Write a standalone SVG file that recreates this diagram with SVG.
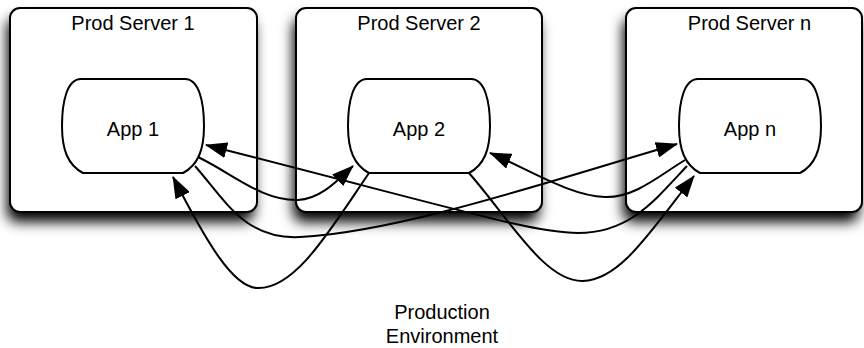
<svg xmlns="http://www.w3.org/2000/svg" xmlns:xlink="http://www.w3.org/1999/xlink" width="864" height="348" viewBox="0 0 864 348">
<style>
.box{fill:#fff;stroke:#000;stroke-width:2}
.shadow{fill:#000;filter:url(#blur)}
.app{fill:#fff;stroke:#000;stroke-width:2}
.lbl{font-family:"Liberation Sans",Arial,Helvetica,sans-serif;font-size:20px;fill:#000;text-anchor:middle}
.cn{fill:none;stroke:#000;stroke-width:2;marker-end:url(#ah)}
</style>
<defs>
<filter id="blur" x="-20%" y="-30%" width="140%" height="160%">
<feGaussianBlur stdDeviation="6.5"/>
</filter>
<marker id="ah" viewBox="0 0 22 16" refX="21" refY="8" markerWidth="22" markerHeight="16" markerUnits="userSpaceOnUse" orient="auto">
<path d="M0,0 L22,8 L0,16 Z" fill="#000"/>
</marker>
<path id="appShape" d="M-52,79 H52 C66,79 71,102 71,126 C71,150 65,165 50,173 H-50 C-65,165 -71,150 -71,126 C-71,102 -66,79 -52,79 Z"/>
</defs>
<rect width="864" height="348" fill="#fff"/>
<g id="shadows">
<rect class="shadow" x="7" y="18" width="247" height="204" rx="10"/>
<rect class="shadow" x="293" y="18" width="246" height="204" rx="10"/>
<rect class="shadow" x="623" y="18" width="236" height="204" rx="10"/>
</g>
<g id="server1">
<rect class="box" x="10" y="8" width="247" height="204" rx="10"/>
<text class="lbl" x="133" y="30">Prod Server 1</text>
</g>
<g id="server2">
<rect class="box" x="296" y="8" width="246" height="204" rx="10"/>
<text class="lbl" x="419" y="30">Prod Server 2</text>
</g>
<g id="serverN">
<rect class="box" x="626" y="8" width="236" height="204" rx="10"/>
<text class="lbl" x="749.5" y="30">Prod Server n</text>
</g>
<g id="app1">
<use xlink:href="#appShape" href="#appShape" class="app" x="133"/>
<text class="lbl" x="133" y="136">App 1</text>
</g>
<g id="app2">
<use xlink:href="#appShape" href="#appShape" class="app" x="419"/>
<text class="lbl" x="419" y="136">App 2</text>
</g>
<g id="appN">
<use xlink:href="#appShape" href="#appShape" class="app" x="750"/>
<text class="lbl" x="750" y="136">App n</text>
</g>
<g id="connectors">
<path class="cn" d="M198,157 C235,175 262,201 298,200 C320,199 336,182 353,166"/>
<path class="cn" d="M195,166 C225,200 245,240 300,237 C400,232 560,178 677,144"/>
<path class="cn" d="M369,173 C330,230 295,290 257,288 C233,287 207,243 173,177"/>
<path class="cn" d="M469,173 C510,220 545,282 583,281 C620,280 650,232 694,176"/>
<path class="cn" d="M685,160 C660,175 635,198 605,197 C570,196 530,170 490,153"/>
<path class="cn" d="M687,166 C655,200 630,233 578,233 C535,233 480,215 206,145"/>
</g>
<g id="caption">
<text class="lbl" x="442" y="319">Production</text>
<text class="lbl" x="442" y="343">Environment</text>
</g>
</svg>
